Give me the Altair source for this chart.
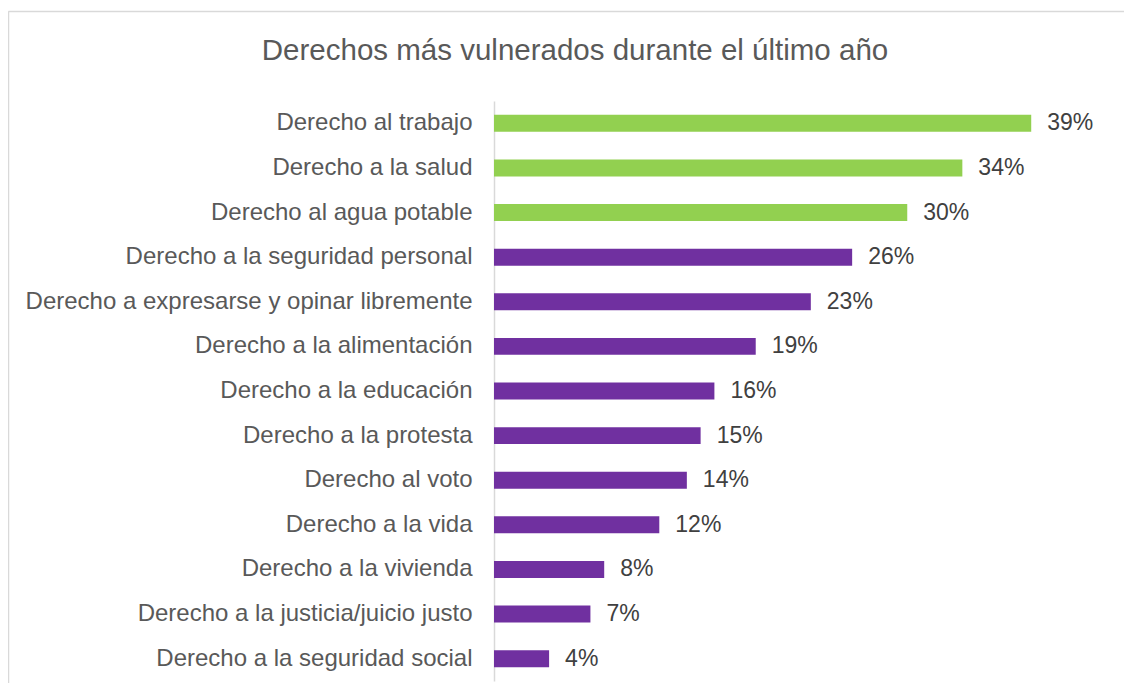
import altair as alt
import pandas as pd

categorias = [
    "Derecho al trabajo",
    "Derecho a la salud",
    "Derecho al agua potable",
    "Derecho a la seguridad personal",
    "Derecho a expresarse y opinar libremente",
    "Derecho a la alimentación",
    "Derecho a la educación",
    "Derecho a la protesta",
    "Derecho al voto",
    "Derecho a la vida",
    "Derecho a la vivienda",
    "Derecho a la justicia/juicio justo",
    "Derecho a la seguridad social",
]
valores = [39, 34, 30, 26, 23, 19, 16, 15, 14, 12, 8, 7, 4]
grupos = ["destacado", "destacado", "destacado",
          "resto", "resto", "resto", "resto", "resto",
          "resto", "resto", "resto", "resto", "resto"]

titulo = "Derechos más vulnerados durante el último año"
VERDE = "#92D050"
MORADO = "#7030A0"
FUENTE = "Liberation Sans"

df = pd.DataFrame({"derecho": categorias, "valor": valores, "grupo": grupos})
df["etiqueta"] = [f"{v}%" for v in valores]

W, H = 1116, 672

x_bar = alt.X("valor:Q", scale=alt.Scale(domain=[0, 40], range=[486, 1037]), axis=None)
y_bar = alt.Y(
    "derecho:N",
    sort=categorias,
    scale=alt.Scale(range=[90, 670], paddingInner=0.62, paddingOuter=0.31),
    axis=alt.Axis(
        orient="left",
        offset=-486,
        title=None,
        ticks=False,
        grid=False,
        labelFont=FUENTE,
        labelFontSize=24,
        labelColor="#595959",
        labelPadding=22,
        labelLimit=800,
        domainColor="#d9d9d9",
        domainWidth=1.5,
    ),
)

bars = alt.Chart(df).mark_bar().encode(
    x=x_bar,
    y=y_bar,
    color=alt.Color(
        "grupo:N",
        scale=alt.Scale(domain=["destacado", "resto"], range=[VERDE, MORADO]),
        legend=None,
    ),
)

labels = alt.Chart(df).mark_text(
    align="left", baseline="middle", dx=16, font=FUENTE, fontSize=23, color="#404040"
).encode(x=x_bar, y=y_bar, text="etiqueta:N")

frame_axis = dict(domainColor="#d9d9d9", domainWidth=1.5, labels=False, ticks=False,
                  grid=False, title=None)
frame = alt.Chart(df).mark_point(opacity=0).encode(
    x=alt.X("valor:Q", scale=alt.Scale(domain=[0, 1000]),
            axis=alt.Axis(orient="top", **frame_axis)),
    y=alt.Y("valor:Q", scale=alt.Scale(domain=[0, 1000]),
            axis=alt.Axis(orient="left", offset=0, **frame_axis)),
)

chart = (
    alt.layer(alt.layer(bars, labels), frame)
    .resolve_scale(x="independent", y="independent")
    .properties(
        width=W,
        height=H,
        padding={"left": 0, "top": 3, "right": 0, "bottom": 0},
        autosize=alt.AutoSizeParams(type="none"),
        title=alt.Title(
            titulo,
            font=FUENTE,
            fontSize=29.5,
            fontWeight="normal",
            color="#595959",
            anchor="middle",
            frame="group",
            baseline="alphabetic",
            offset=-78,
            dx=9,
        ),
    )
    .configure_view(stroke="transparent", strokeWidth=0)
    .configure(background="white")
)

chart.save("out.html", embed_options={"renderer": "svg", "actions": False})
